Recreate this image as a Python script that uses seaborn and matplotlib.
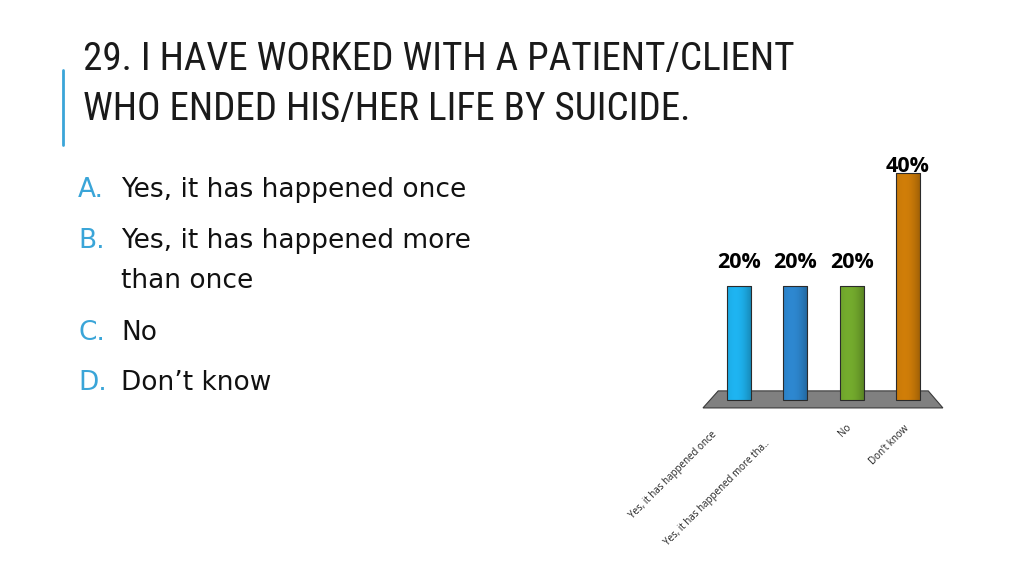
import numpy as np
import matplotlib
matplotlib.use("Agg")
import matplotlib.pyplot as plt
import matplotlib.transforms as mtransforms
from matplotlib.patches import Polygon
import seaborn as sns
import pandas as pd

# ---- data ----
categories = ["Yes, it has happened once", "Yes, it has happened more than once", "No", "Don’t know"]
tick_labels = ["Yes, it has happened once", "Yes, it has happened more tha..", "No", "Don’t know"]
values = [0.20, 0.20, 0.20, 0.40]
value_labels = ["20%", "20%", "20%", "40%"]
option_letters = ["A.", "B.", "", "C.", "D."]
option_texts = ["Yes, it has happened once", "Yes, it has happened more", "than once", "No", "Don’t know"]
title_lines = ["29. I HAVE WORKED WITH A PATIENT/CLIENT", "WHO ENDED HIS/HER LIFE BY SUICIDE."]

# ---- style ----
bar_colors = ["#1CA6DE", "#2A7DC0", "#6B9E2A", "#C07408"]
accent = "#3AA5D8"
label_pad_pt = [13.5, 13.5, 13.5, 0.5]
tick_offsets_px = [(-24, -7), (-27, -16), (-2, 0), (0, -1)]

sns.set_theme(style="white")
plt.rcParams['font.family'] = ['Noto Sans', 'DejaVu Sans']

W, H = 1024, 576
fig = plt.figure(figsize=(W / 100, H / 100), dpi=100)
fig.patch.set_facecolor("white")
renderer = fig.canvas.get_renderer()

# Title (size fitted to the reference width of the first line)
title_family = ['Roboto Condensed', 'Liberation Sans Narrow', 'DejaVu Sans']
title_baselines = [70, 120]
title_texts = []
for line, yb in zip(title_lines, title_baselines):
    t = fig.text(83 / W, 1 - yb / H, line, fontsize=26, color="#1a1a1a",
                 family=title_family, fontstretch="condensed",
                 va="baseline", ha="left")
    title_texts.append(t)
w0 = title_texts[0].get_window_extent(renderer).width
size = min(26 * 712 / w0, 33)
for t in title_texts:
    t.set_fontsize(size)

# Accent line
fig.add_artist(plt.Line2D([63 / W, 63 / W], [1 - 70 / H, 1 - 145 / H],
                          color=accent, lw=2, transform=fig.transFigure))

# Options list
opt_baselines = [197, 248, 288, 340, 390]
for letter, text, yb in zip(option_letters, option_texts, opt_baselines):
    if letter:
        fig.text(78 / W, 1 - yb / H, letter, fontsize=19, color=accent,
                 family=['DejaVu Sans'], va="baseline", ha="left")
    fig.text(121 / W, 1 - yb / H, text, fontsize=19, color="#111111",
             family=['DejaVu Sans'], va="baseline", ha="left")

# Chart axes
ax = fig.add_axes([696.8 / W, (576 - 417) / H, 253.4 / W, 272.4 / H])
df = pd.DataFrame({"cat": categories, "val": values})
sns.barplot(data=df, x="cat", y="val", hue="cat", palette=bar_colors, legend=False,
            width=0.43, saturation=1, edgecolor="#2b2b2b", linewidth=0.8, ax=ax, zorder=3)
bars = list(ax.patches)
ax.set_xlim(-0.75, 3.75)
ax.set_ylim(-0.03, 0.45)

# floor
floor = Polygon([(-0.64, -0.014), (3.62, -0.014), (3.36, 0.016), (-0.37, 0.016)],
                closed=True, facecolor="#808080", edgecolor="#3a3a3a", lw=0.8, zorder=1)
ax.add_patch(floor)

# cylinder shading
for b in bars:
    x0, y0 = b.get_x(), b.get_y()
    w, h = b.get_width(), b.get_height()
    fc = np.array(b.get_facecolor()[:3])
    t = np.linspace(0, 1, 64)
    shade = 1.0 + 0.18 * np.sin(np.pi * (t * 0.9 + 0.05)) - 0.22 * t
    rgb = np.clip(fc[None, :] * shade[:, None], 0, 1)
    img = rgb[None, :, :]
    im = ax.imshow(img, extent=(x0, x0 + w, y0, y0 + h), aspect="auto",
                   zorder=3.5, interpolation="bilinear")
    im.set_clip_path(b)
for b in bars:
    b.set_zorder(4)
    b.set_facecolor("none")
ax.set_aspect("auto")
ax.set_xlim(-0.75, 3.75)
ax.set_ylim(-0.03, 0.45)

# value labels
for i, (v, lab, pad) in enumerate(zip(values, value_labels, label_pad_pt)):
    ax.annotate(lab, xy=(i, v), xytext=(0, pad), textcoords="offset points",
                ha="center", va="baseline", fontsize=15.5, fontweight="bold",
                family=['Open Sans', 'DejaVu Sans'], color="black")

# ticks
ax.set_xticks(range(len(tick_labels)))
ax.set_xticklabels(tick_labels, rotation=45, ha="right", va="center",
                   rotation_mode="anchor", fontsize=7, family=['Open Sans', 'DejaVu Sans'],
                   color="#222222")
ax.tick_params(axis="x", length=0, pad=6.5)
for lab, (dx, dy) in zip(ax.get_xticklabels(), tick_offsets_px):
    lab.set_transform(lab.get_transform() +
                      mtransforms.ScaledTranslation(dx / 100, dy / 100, fig.dpi_scale_trans))
ax.set_yticks([])
ax.set_xlabel("")
ax.set_ylabel("")
for s in ax.spines.values():
    s.set_visible(False)
ax.patch.set_alpha(0)

fig.savefig("out.png", dpi=100, facecolor="white")
